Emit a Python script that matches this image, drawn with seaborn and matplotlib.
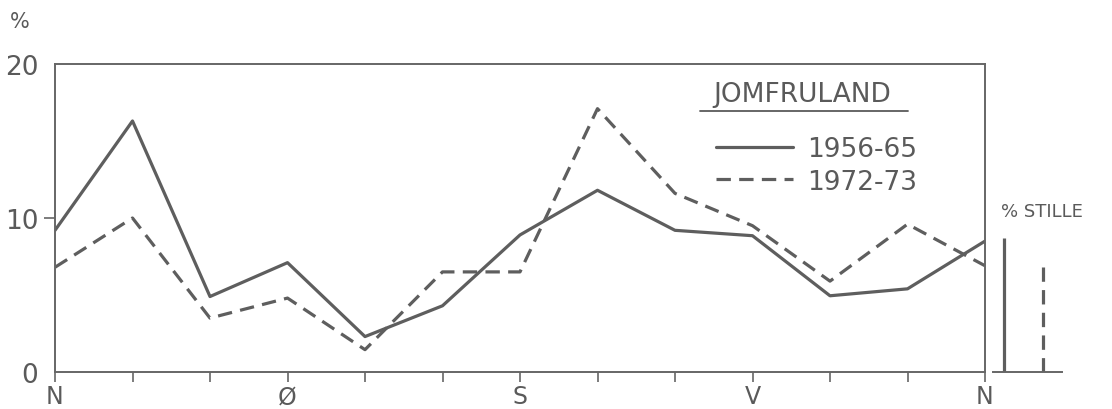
import numpy as np
import pandas as pd
import seaborn as sns
import matplotlib
matplotlib.use("Agg")
import matplotlib.pyplot as plt
from matplotlib.lines import Line2D

# ---- data ----
directions = list(range(13))          # 0..12 sectors of 30 degrees, N..N
dir_labels = ["N", "", "", "Ø", "", "", "S", "", "", "V", "", "", "N"]
period_a = "1956-65"
period_b = "1972-73"
values_a = [9.2, 16.3, 4.9, 7.1, 2.3, 4.3, 8.9, 11.8, 9.2, 8.85, 4.95, 5.4, 8.5]
values_b = [6.8, 10.0, 3.5, 4.8, 1.45, 6.5, 6.5, 17.1, 11.6, 9.5, 5.9, 9.6, 6.9]
stille_labels = [period_a, period_b]
stille_values = [8.7, 6.8]
y_ticks = [0, 10, 20]

df = pd.DataFrame({
    "dir": directions * 2,
    "pct": values_a + values_b,
    "period": [period_a] * 13 + [period_b] * 13,
})

sns.set_theme(style="white")
plt.rcParams["font.family"] = ["DejaVu Sans"]
ink = "#5a5a5a"
line_c = "#5e5e5e"

fig = plt.figure(figsize=(11.12, 4.10), dpi=100)
W, H = 1112, 410
L, R, T, B = 55, 985, 65, 373
ax = fig.add_axes([L / W, 1 - B / H, (R - L) / W, (B - T) / H])

sns.lineplot(data=df, x="dir", y="pct", style="period",
             dashes={period_a: "", period_b: (4.5, 2.6)},
             color=line_c, linewidth=2.3, legend=False, ax=ax, sort=False)

ax.set_xlim(0, 12)
ax.set_ylim(0, 20)
ax.set_xlabel("")
ax.set_ylabel("")
for s in ax.spines.values():
    s.set_color("#666666")
    s.set_linewidth(1.4)
    s.set_visible(True)

ax.set_xticks(directions)
ax.set_xticklabels(dir_labels, fontsize=17, color=ink)
ax.set_yticks(y_ticks)
ax.set_yticklabels([str(v) for v in y_ticks], fontsize=19, color=ink)
ax.tick_params(axis="x", direction="out", length=7, width=1.2, color="#666666",
               pad=2, bottom=True)
ax.tick_params(axis="y", direction="out", length=8, width=1.2, color="#666666",
               pad=4, left=True)
yt = ax.yaxis.get_major_ticks()
yt[0].tick1line.set_visible(False)
yt[2].tick1line.set_visible(False)

# legend
handles = [Line2D([], [], color=line_c, lw=2.3, ls="-"),
           Line2D([], [], color=line_c, lw=2.3, ls=(0, (4.5, 2.6)))]
ax.legend(handles, [period_a, period_b], loc="upper left",
          bbox_to_anchor=((716 - L) / (R - L), (B - 137) / (B - T)),
          frameon=False, fontsize=19, labelcolor=ink, handlelength=2.9,
          handletextpad=0.55, labelspacing=0.25, borderpad=0, borderaxespad=0)
ax.text((802 - L) / (R - L), (B - 95) / (B - T), "JOMFRULAND",
        transform=ax.transAxes, ha="center", va="center", fontsize=19,
        color=ink, fontstretch="expanded")
ax.plot([(700 - L) / (R - L), (908 - L) / (R - L)],
        [(B - 112) / (B - T)] * 2, transform=ax.transAxes, color=ink, lw=1.3)

# "%" unit label
fig.text(20 / W, 1 - 22 / H, "%", ha="center", va="center", fontsize=15, color=ink)

# calm ("stille") axis
ax2 = fig.add_axes([993 / W, 1 - B / H, (1062 - 993) / W, (B - T) / H])
ax2.set_xlim(0, 1)
ax2.set_ylim(0, 20)
ax2.vlines([0.16], 0, [stille_values[0]], color=line_c, lw=2.3)
ax2.vlines([0.72], 0, [stille_values[1]], color=line_c, lw=2.3,
           linestyles=[(0, (4.5, 2.6))])
for k, s in ax2.spines.items():
    s.set_visible(k == "bottom")
ax2.spines["bottom"].set_color("#666666")
ax2.spines["bottom"].set_linewidth(1.4)
ax2.set_xticks([])
ax2.set_yticks([])
ax2.patch.set_alpha(0)
fig.text(1001 / W, 1 - 212 / H, "% STILLE", ha="left", va="center",
         fontsize=13, color=ink)

fig.savefig("out.png", dpi=100, facecolor="white")
